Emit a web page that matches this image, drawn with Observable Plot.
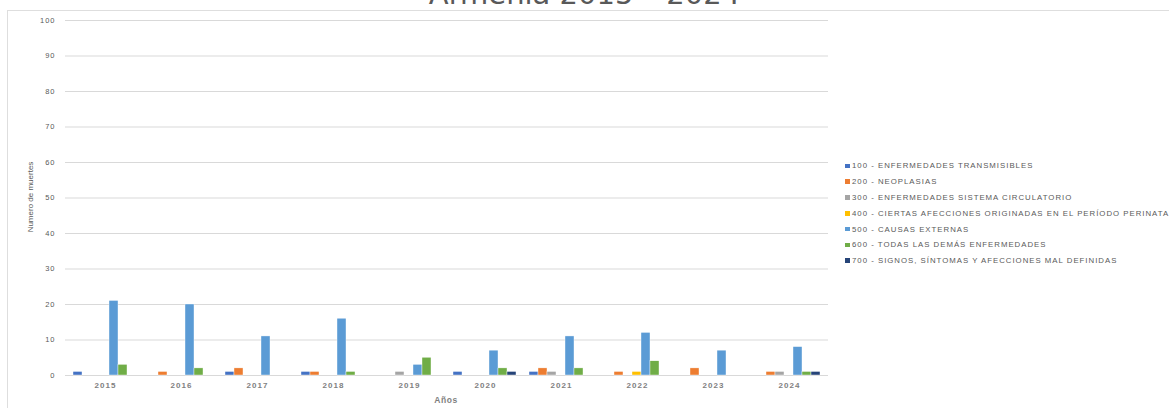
<!DOCTYPE html>
<html>
<head>
<meta charset="utf-8">
<script src="https://cdn.jsdelivr.net/npm/d3@7"></script>
<script src="https://cdn.jsdelivr.net/npm/@observablehq/plot@0.6"></script>
<style>
  html, body { margin: 0; padding: 0; background: #fff; overflow: hidden; }
  #wrap { position: relative; width: 1169px; height: 408px; overflow: hidden; font-family: "Liberation Sans", Arial, sans-serif; color: #595959; }
  #border { position: absolute; left: 7px; top: 10px; width: 1200px; height: 420px; border: 1px solid #dedede; box-sizing: border-box; }
  #title { position: absolute; left: 0; width: 1169px; top: -20px; line-height: 29px; text-align: center; font-family: "DejaVu Sans", sans-serif; font-size: 29px; color: #595959; white-space: pre; }
  .layer { position: absolute; left: 0; top: 0; }
  #ylabel { position: absolute; left: 30px; top: 197px; transform: translate(-50%, -50%) rotate(-90deg); font-size: 8px; white-space: nowrap; }
  #xlabel { position: absolute; left: 446px; top: 400px; transform: translate(-50%, -50%); font-size: 8.5px; font-weight: bold; letter-spacing: 0.6px; color: #7f7f7f; }
  #legend { position: absolute; left: 845px; top: 158px; }
  .item { height: 15.8px; display: flex; align-items: center; white-space: nowrap; font-size: 7.8px; letter-spacing: 1.0px; }
  .sw { width: 4.5px; height: 4.5px; margin-right: 2.5px; flex: none; }
</style>
</head>
<body>
<div id="wrap">
  <div id="border"></div>
  <div id="title"></div>
  <div id="bg" class="layer"></div>
  <div id="bars" class="layer"></div>
  <div id="ylabel"></div>
  <div id="xlabel"></div>
  <div id="legend"></div>
</div>
<script>
const titleText = "Armenia 2015 – 2024";
const yLabel = "Numero de muertes";
const xLabel = "Años";
const years = ["2015","2016","2017","2018","2019","2020","2021","2022","2023","2024"];
const causes = [
  "100 - ENFERMEDADES TRANSMISIBLES",
  "200 - NEOPLASIAS",
  "300 - ENFERMEDADES SISTEMA CIRCULATORIO",
  "400 - CIERTAS AFECCIONES ORIGINADAS EN EL PERÍODO PERINATAL",
  "500 - CAUSAS EXTERNAS",
  "600 - TODAS LAS DEMÁS ENFERMEDADES",
  "700 - SIGNOS, SÍNTOMAS Y AFECCIONES MAL DEFINIDAS"
];
const colors = ["#4472C4","#ED7D31","#A5A5A5","#FFC000","#5B9BD5","#70AD47","#264478"];
const c100 = [1,0,1,1,0,1,1,0,0,0];
const c200 = [0,1,2,1,0,0,2,1,2,1];
const c300 = [0,0,0,0,1,0,1,0,0,1];
const c400 = [0,0,0,0,0,0,0,1,0,0];
const c500 = [21,20,11,16,3,7,11,12,7,8];
const c600 = [3,2,0,1,5,2,2,4,0,1];
const c700 = [0,0,0,0,0,1,0,0,0,1];
const yTicks = [0,10,20,30,40,50,60,70,80,90,100];

const series = [c100,c200,c300,c400,c500,c600,c700];
const data = [];
series.forEach((vals, k) => vals.forEach((v, i) => { if (v > 0) data.push({year: years[i], cause: causes[k], value: v}); }));

document.getElementById("title").textContent = titleText;
document.getElementById("ylabel").textContent = yLabel;
document.getElementById("xlabel").textContent = xLabel;

const W = 1169, H = 408;
const M = {marginLeft: 65, marginRight: 341, marginTop: 20, marginBottom: 33};

const bg = Plot.plot({
  width: W, height: H, ...M,
  style: {background: "transparent", fontSize: "7.5px", color: "#595959", letterSpacing: "1px", fontFamily: "Liberation Sans, Arial, sans-serif"},
  x: {type: "band", domain: years, padding: 0, tickSize: 0, tickPadding: 7, label: null},
  y: {domain: [0, 100], ticks: yTicks, tickSize: 0, tickPadding: 10, label: null},
  marks: [
    Plot.ruleY(yTicks, {stroke: "#d9d9d9", strokeWidth: 1})
  ]
});
bg.querySelectorAll("g[aria-label='x-axis'] text, g[aria-label='x-axis tick label'] text").forEach(t => { t.style.fontSize = "8px"; t.style.fontWeight = "bold"; t.setAttribute("fill", "#7f7f7f"); });
document.getElementById("bg").appendChild(bg);

const bars = Plot.plot({
  width: W, height: H, ...M,
  style: {background: "transparent"},
  facet: {data, x: "year"},
  fx: {domain: years, paddingInner: 0.17, paddingOuter: 0.085, axis: null, label: null},
  x: {domain: causes, padding: 0, axis: null},
  y: {domain: [0, 100], axis: null},
  color: {domain: causes, range: colors},
  marks: [
    Plot.barY(data, {x: "cause", y: "value", fill: "cause", stroke: "white", strokeWidth: 0.4})
  ]
});
document.getElementById("bars").appendChild(bars);

const legend = document.getElementById("legend");
causes.forEach((c, k) => {
  const item = document.createElement("div");
  item.className = "item";
  const sw = document.createElement("span");
  sw.className = "sw";
  sw.style.background = colors[k];
  const tx = document.createElement("span");
  tx.textContent = c;
  item.appendChild(sw); item.appendChild(tx);
  legend.appendChild(item);
});
</script>
</body>
</html>
